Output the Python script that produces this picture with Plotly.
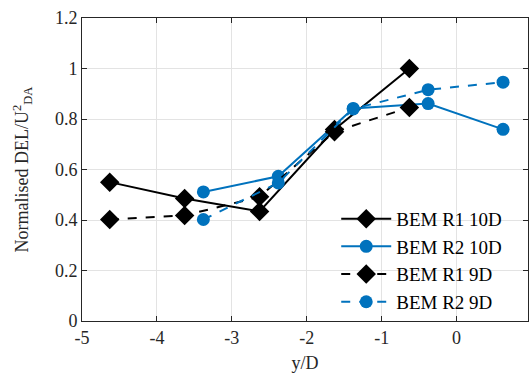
import plotly.graph_objects as go

# Lateral positions (y/D) and normalised DEL values
x_r1 = [-4.63, -3.63, -2.63, -1.63, -0.63]
x_r2 = [-3.38, -2.38, -1.38, -0.38, 0.62]

r1_10d = [0.550, 0.485, 0.434, 0.758, 1.000]
r2_10d = [0.511, 0.573, 0.842, 0.861, 0.759]
r1_9d = [0.402, 0.418, 0.492, 0.750, 0.846]
r2_9d = [0.402, 0.547, 0.840, 0.916, 0.946]

x_ticks = [-5, -4, -3, -2, -1, 0]
x_tick_text = ["-5", "-4", "-3", "-2", "-1", "0"]
y_ticks = [0, 0.2, 0.4, 0.6, 0.8, 1.0, 1.2]
y_tick_text = ["0", "0.2", "0.4", "0.6", "0.8", "1", "1.2"]

BLACK = "#000000"
BLUE = "#0072BD"
FONT = "Liberation Serif, Times New Roman, serif"
TXT = "#262626"

fig = go.Figure()

series = [
    ("BEM R1 10D", x_r1, r1_10d, BLACK, "solid", "diamond", 15),
    ("BEM R2 10D", x_r2, r2_10d, BLUE, "solid", "circle", 13),
    ("BEM R1 9D", x_r1, r1_9d, BLACK, "dash", "diamond", 15),
    ("BEM R2 9D", x_r2, r2_9d, BLUE, "dash", "circle", 13),
]
for name, xs, ys, col, dash, sym, size in series:
    fig.add_trace(go.Scatter(
        x=xs, y=ys, name=name, mode="lines+markers",
        line=dict(color=col, width=2, dash=dash),
        marker=dict(symbol=sym, size=size, color=col, line=dict(width=0)),
        cliponaxis=False,
    ))

axis_common = dict(
    showgrid=True, gridcolor="#e3e3e3", gridwidth=1,
    showline=True, linecolor=TXT, linewidth=1, mirror="ticks",
    ticks="inside", ticklen=5, tickcolor=TXT,
    zeroline=False,
    tickfont=dict(family=FONT, size=18, color=TXT),
)

fig.update_layout(
    width=529, height=377,
    margin=dict(l=82, r=1, t=18, b=56),
    paper_bgcolor="white", plot_bgcolor="white",
    font=dict(family=FONT, size=18, color=TXT),
    xaxis=dict(
        range=[-5, 0.953], tickvals=x_ticks, ticktext=x_tick_text,
        title=dict(text="y/D", font=dict(family=FONT, size=18, color=TXT), standoff=9),
        **axis_common,
    ),
    yaxis=dict(
        range=[0, 1.2], tickvals=y_ticks, ticktext=y_tick_text,
        title=dict(text="Normalised DEL/U<sup>2</sup><sub>DA</sub>",
                   font=dict(family=FONT, size=18, color=TXT), standoff=21),
        **axis_common,
    ),
    legend=dict(
        x=0.57, y=0.40, xanchor="left", yanchor="top",
        bgcolor="rgba(0,0,0,0)", borderwidth=0,
        font=dict(family=FONT, size=19, color="#000000"),
        itemwidth=50, tracegroupgap=0,
    ),
    showlegend=True,
)

fig.write_html("out.html")
